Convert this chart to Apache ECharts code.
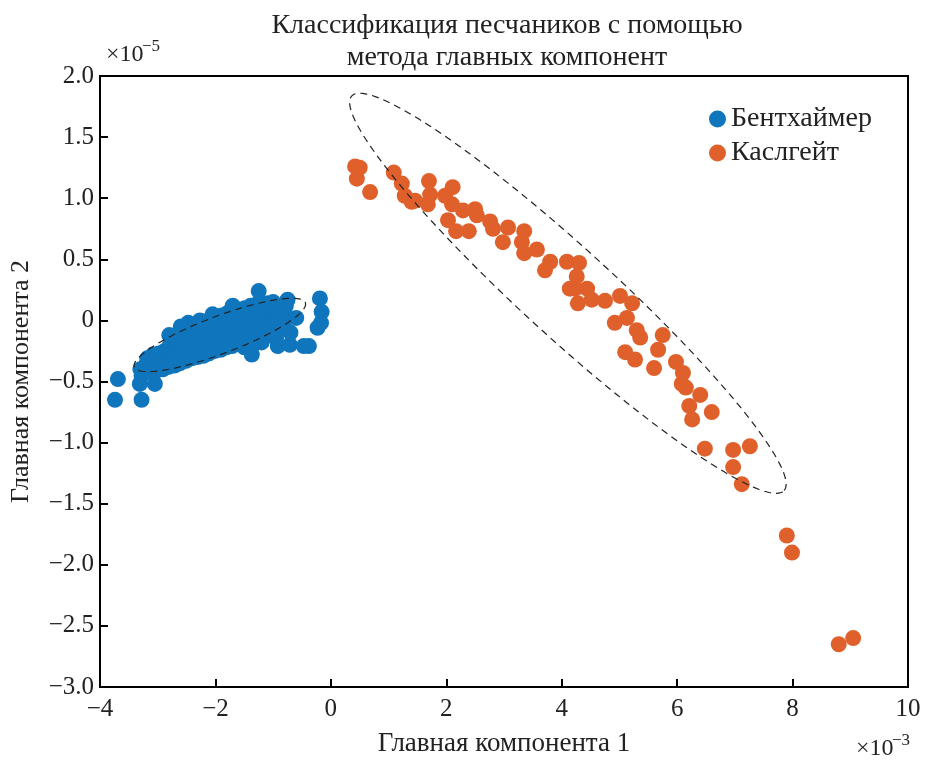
<!DOCTYPE html>
<html>
<head>
<meta charset="utf-8">
<script src="https://cdn.jsdelivr.net/npm/echarts@6/dist/echarts.min.js"></script>
<style>
  html, body { margin: 0; padding: 0; background: #fff; }
  #main { width: 925px; height: 762px; }
</style>
</head>
<body>
<div id="main"></div>
<script>
// оси (x в единицах 1e-3, y в единицах 1e-5)
var xTicks = [-4, -2, 0, 2, 4, 6, 8, 10];
var yTicks = [-3.0, -2.5, -2.0, -1.5, -1.0, -0.5, 0, 0.5, 1.0, 1.5, 2.0];
var seriesNames = ['Бентхаймер', 'Каслгейт'];

// Бентхаймер: плотное облако + отдельные точки
var bentheimer = [
  [-3.69, -0.48], [-3.74, -0.65], [-3.28, -0.65], [-3.31, -0.52], [-3.05, -0.52],
  [-3.30, -0.40], [-3.28, -0.45], [-3.20, -0.36], [-3.21, -0.42], [-3.18, -0.31],
  [-3.10, -0.38], [-3.12, -0.33], [-3.08, -0.28], [-3.00, -0.35], [-3.02, -0.41],
  [-2.98, -0.27], [-3.01, -0.31], [-2.90, -0.30], [-2.92, -0.36], [-2.88, -0.25],
  [-2.91, -0.40], [-2.80, -0.28], [-2.82, -0.34], [-2.79, -0.22], [-2.81, -0.38],
  [-2.78, -0.18], [-2.70, -0.26], [-2.72, -0.32], [-2.68, -0.20], [-2.71, -0.37],
  [-2.69, -0.14], [-2.60, -0.24], [-2.62, -0.30], [-2.58, -0.17], [-2.61, -0.35],
  [-2.59, -0.10], [-2.50, -0.22], [-2.52, -0.28], [-2.48, -0.15], [-2.51, -0.33],
  [-2.49, -0.08], [-2.47, -0.02], [-2.40, -0.20], [-2.42, -0.26], [-2.38, -0.12],
  [-2.41, -0.31], [-2.39, -0.06], [-2.30, -0.18], [-2.32, -0.24], [-2.28, -0.10],
  [-2.31, -0.30], [-2.29, -0.04], [-2.27, 0.00], [-2.20, -0.16], [-2.22, -0.23],
  [-2.18, -0.08], [-2.21, -0.29], [-2.19, -0.02], [-2.10, -0.15], [-2.12, -0.21],
  [-2.08, -0.07], [-2.11, -0.27], [-2.09, 0.01], [-2.00, -0.13], [-2.02, -0.19],
  [-1.98, -0.05], [-2.01, -0.25], [-1.99, 0.02], [-1.90, -0.11], [-1.92, -0.18],
  [-1.88, -0.03], [-1.91, -0.24], [-1.89, 0.04], [-1.80, -0.10], [-1.82, -0.16],
  [-1.78, -0.02], [-1.81, -0.22], [-1.79, 0.06], [-1.70, -0.08], [-1.72, -0.15],
  [-1.68, 0.00], [-1.71, -0.21], [-1.69, 0.07], [-1.60, -0.06], [-1.62, -0.13],
  [-1.58, 0.02], [-1.61, -0.19], [-1.59, 0.09], [-1.50, -0.05], [-1.52, -0.12],
  [-1.48, 0.03], [-1.51, -0.18], [-1.49, 0.10], [-1.40, -0.03], [-1.42, -0.10],
  [-1.38, 0.05], [-1.41, -0.16], [-1.39, 0.12], [-1.30, -0.01], [-1.32, -0.08],
  [-1.28, 0.06], [-1.31, -0.14], [-1.29, 0.13], [-1.20, 0.00], [-1.22, -0.07],
  [-1.18, 0.08], [-1.21, -0.13], [-1.19, 0.14], [-1.10, 0.02], [-1.12, -0.05],
  [-1.08, 0.09], [-1.11, -0.11], [-1.09, 0.14], [-1.00, 0.03], [-1.02, -0.04],
  [-0.98, 0.10], [-1.01, -0.10], [-0.90, 0.05], [-0.92, -0.02], [-0.88, 0.11],
  [-0.91, -0.08], [-0.80, 0.06], [-0.82, 0.00], [-0.78, 0.12], [-0.81, -0.05],
  [-1.50, -0.22], [-1.20, -0.18], [-1.00, 0.15], [-2.60, -0.05], [-2.80, -0.12],
  [-1.70, 0.12], [-2.05, 0.05], [-1.35, -0.20], [-0.95, -0.15],
  [-1.25, 0.24], [-0.75, 0.17], [-0.19, 0.18], [-0.16, 0.07], [-0.23, -0.06],
  [-0.17, -0.02], [-0.38, -0.21], [-1.37, -0.28], [-0.92, -0.21], [-0.71, -0.20],
  [-0.47, -0.21], [-0.70, -0.10], [-0.60, 0.02]
];

// Каслгейт
var castlegate = [
  [0.42, 1.26], [0.50, 1.25], [0.45, 1.16], [0.68, 1.05], [1.09, 1.21],
  [1.23, 1.12], [1.28, 1.02], [1.40, 0.97], [1.46, 0.98], [1.70, 1.14],
  [1.72, 1.03], [1.68, 0.95], [2.11, 1.09], [1.98, 1.02], [2.10, 0.95],
  [2.03, 0.82], [2.17, 0.73], [2.39, 0.73], [2.29, 0.90], [2.50, 0.91],
  [2.53, 0.86], [2.76, 0.81], [2.81, 0.75], [3.07, 0.76], [2.98, 0.64],
  [3.35, 0.73], [3.31, 0.64], [3.35, 0.55], [3.57, 0.58], [3.80, 0.48],
  [3.71, 0.41], [4.09, 0.48], [4.14, 0.26], [4.30, 0.47], [4.26, 0.36],
  [4.23, 0.26], [4.44, 0.26], [4.28, 0.14], [4.52, 0.17], [4.75, 0.16],
  [5.01, 0.20], [5.22, 0.14], [4.92, -0.02], [5.13, 0.02], [5.30, -0.08],
  [5.36, -0.14], [5.75, -0.12], [5.67, -0.24], [5.10, -0.26], [5.27, -0.32],
  [5.60, -0.39], [5.98, -0.34], [6.10, -0.43], [6.08, -0.52], [6.15, -0.55],
  [6.40, -0.61], [6.21, -0.70], [6.60, -0.75], [6.26, -0.81], [6.48, -1.05],
  [6.97, -1.06], [7.26, -1.03], [6.97, -1.20], [7.12, -1.34], [7.90, -1.76],
  [7.99, -1.90], [9.05, -2.60], [8.80, -2.65]
];

// эллипсы: центр, конец большой полуоси, конец малой полуоси
var ellipseBlue = [-1.924, -0.119, -0.442, 0.145, -1.808, -0.262];
var ellipseOrange = [4.107, 0.222, 7.854, -1.392, 4.622, 0.497];

var blue = '#0F75BC';
var orange = '#E0602C';
var serif = 'Liberation Serif';

function minusFmt(s) { return String(s).replace('-', '\u2212'); }

function ellipseRender(params, api) {
  var c = api.coord([api.value(0), api.value(1)]);
  var p1 = api.coord([api.value(2), api.value(3)]);
  var p2 = api.coord([api.value(4), api.value(5)]);
  var ux = p1[0] - c[0], uy = p1[1] - c[1];
  var vx = p2[0] - c[0], vy = p2[1] - c[1];
  var pts = [];
  for (var i = 0; i < 120; i++) {
    var t = i / 120 * Math.PI * 2;
    pts.push([c[0] + Math.cos(t) * ux + Math.sin(t) * vx,
              c[1] + Math.cos(t) * uy + Math.sin(t) * vy]);
  }
  return {
    type: 'polygon',
    shape: { points: pts },
    style: { fill: 'none', stroke: '#222', lineWidth: 1.2, lineDash: [7, 5] },
    z2: 10
  };
}

var chart = echarts.init(document.getElementById('main'));

var option = {
  backgroundColor: '#fff',
  animation: false,
  title: {
    text: 'Классификация песчаников с помощью\nметода главных компонент',
    left: 502,
    textAlign: 'center',
    top: 5,
    textStyle: { fontFamily: serif, fontSize: 28, fontWeight: 'normal', color: '#222', lineHeight: 32 }
  },
  legend: {
    data: seriesNames,
    orient: 'vertical',
    left: 704,
    top: 100,
    icon: 'circle',
    itemWidth: 17,
    itemHeight: 17,
    itemGap: 6,
    textStyle: { fontFamily: serif, fontSize: 28, color: '#222' }
  },
  grid: {
    left: 100, right: 17, top: 76, bottom: 70,
    show: true, borderColor: '#000', borderWidth: 2
  },
  xAxis: {
    type: 'value',
    min: -4, max: 10, interval: 2,
    name: 'Главная компонента 1',
    nameLocation: 'middle',
    nameGap: 43,
    nameTextStyle: { fontFamily: serif, fontSize: 27, color: '#222' },
    axisLine: { show: true, onZero: false, lineStyle: { color: '#000', width: 2 } },
    axisTick: { inside: true, length: 8, lineStyle: { color: '#000', width: 2 } },
    axisLabel: {
      fontFamily: serif, fontSize: 25, color: '#222', margin: 10,
      formatter: function (v) { return xTicks.indexOf(v) >= 0 ? minusFmt(v) : ''; }
    },
    splitLine: { show: false }
  },
  yAxis: {
    type: 'value',
    min: -3, max: 2, interval: 0.5,
    name: 'Главная компонента 2',
    nameLocation: 'middle',
    nameGap: 66,
    nameTextStyle: { fontFamily: serif, fontSize: 26, color: '#222' },
    axisLine: { show: true, onZero: false, lineStyle: { color: '#000', width: 2 } },
    axisTick: { inside: true, length: 8, lineStyle: { color: '#000', width: 2 } },
    axisLabel: {
      fontFamily: serif, fontSize: 25, color: '#222', margin: 6,
      formatter: function (v) {
        var r = Math.round(v * 10) / 10;
        if (yTicks.indexOf(r) < 0) return '';
        return r === 0 ? '0' : minusFmt(r.toFixed(1));
      }
    },
    splitLine: { show: false }
  },
  graphic: [
    { type: 'text', left: 106, top: 43, style: { text: '\u00d710', font: '24px "Liberation Serif"', fill: '#222' } },
    { type: 'text', left: 142, top: 38, style: { text: '\u22125', font: '17px "Liberation Serif"', fill: '#222' } },
    { type: 'text', left: 856, top: 737, style: { text: '\u00d710', font: '24px "Liberation Serif"', fill: '#222' } },
    { type: 'text', left: 892, top: 732, style: { text: '\u22123', font: '17px "Liberation Serif"', fill: '#222' } }
  ],
  series: [
    {
      name: seriesNames[0],
      type: 'scatter',
      data: bentheimer,
      symbolSize: 16,
      itemStyle: { color: blue, opacity: 1 },
      z: 2
    },
    {
      name: seriesNames[1],
      type: 'scatter',
      data: castlegate,
      symbolSize: 16,
      itemStyle: { color: orange, opacity: 1 },
      z: 2
    },
    {
      type: 'custom',
      renderItem: ellipseRender,
      data: [ellipseBlue, ellipseOrange],
      silent: true,
      z: 5
    }
  ]
};

chart.setOption(option);
</script>
</body>
</html>
